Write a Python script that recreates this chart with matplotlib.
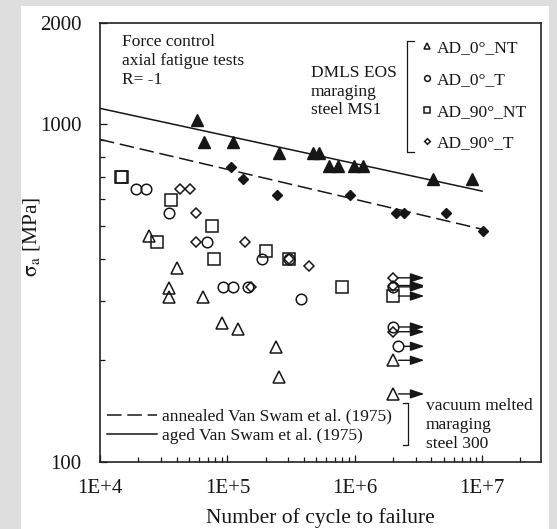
import matplotlib.pyplot as plt
from matplotlib.patches import Rectangle
from matplotlib.ticker import FixedLocator, NullFormatter

plt.rcParams['font.family'] = ['Liberation Serif', 'DejaVu Serif']
plt.rcParams['mathtext.fontset'] = 'stix'

# DMLS EOS maraging steel MS1 - failed specimens
nt0_N = [2.42e4, 3.5e4, 3.5e4, 4.0e4, 6.44e4, 9.0e4, 1.22e5, 2.39e5, 2.55e5]
nt0_S = [466, 328, 308, 376, 308, 258, 248, 219, 178]
t0_N = [1.91e4, 2.29e4, 3.5e4, 6.9e4, 9.25e4, 1.1e5, 1.45e5, 1.88e5, 3.03e5, 3.8e5]
t0_S = [643, 643, 548, 447, 330, 330, 330, 398, 398, 303]
nt90_N = [1.45e4, 1.5e4, 2.8e4, 3.6e4, 7.6e4, 7.85e4, 2.0e5, 3.03e5, 7.95e5]
nt90_S = [699, 699, 447, 596, 501, 398, 421, 398, 330]
t90_N = [4.26e4, 5.1e4, 5.65e4, 5.65e4, 1.38e5, 1.52e5, 3.03e5, 4.36e5]
t90_S = [643, 643, 548, 447, 447, 330, 398, 380]

# run-outs (no failure)
nt0_run_N = [2e6, 2e6]
nt0_run_S = [200, 159]
t0_run_N = [2e6, 2e6, 2.2e6]
t0_run_S = [330, 251, 220]
nt90_run_N = [2e6]
nt90_run_S = [310]
t90_run_N = [2e6, 2e6, 2e6]
t90_run_S = [351, 333, 243]

# vacuum melted maraging steel 300, Van Swam et al. (1975)
aged_N = [5.8e4, 6.5e4, 1.1e5, 2.55e5, 4.74e5, 5.28e5, 6.33e5, 7.44e5, 9.9e5, 1.17e6, 4.1e6, 8.3e6]
aged_S = [1029, 888, 888, 825, 821, 821, 752, 752, 752, 752, 687, 687]
annealed_N = [1.06e5, 1.32e5, 2.47e5, 9.2e5, 2.12e6, 2.42e6, 5.2e6, 1.01e7]
annealed_S = [748, 687, 619, 619, 547, 547, 547, 482]
aged_fit_N = [1e4, 1e7]
aged_fit_S = [1115, 634]
annealed_fit_N = [1e4, 1e7]
annealed_fit_S = [902, 489]

W, H = 557, 529
fig = plt.figure(figsize=(W / 100, H / 100), dpi=100)
fig.patch.set_facecolor('#dedede')
fig.patches.append(Rectangle((21 / W, 0), 528 / W, 1 - 6 / H, transform=fig.transFigure,
                             facecolor='white', edgecolor='none', zorder=-10))

L, R, T, B = 100, 541, 22.7, 461.9
ax = fig.add_axes([L / W, 1 - B / H, (R - L) / W, (B - T) / H])
ax.set_zorder(5)


def fx(px):
    return (px - L) / (R - L)


def fy(py):
    return (B - py) / (B - T)


ink = '#161616'
open_kw = dict(ls='none', mfc='none', mec=ink, mew=1.1)
h_nt0, = ax.plot(nt0_N, nt0_S, marker='^', ms=8.3, label='AD_0°_NT', **open_kw)
h_t0, = ax.plot(t0_N, t0_S, marker='o', ms=7.6, label='AD_0°_T', **open_kw)
h_nt90, = ax.plot(nt90_N, nt90_S, marker='s', ms=8.2, label='AD_90°_NT', **open_kw)
h_t90, = ax.plot(t90_N, t90_S, marker='D', ms=5.2, label='AD_90°_T', **open_kw)

ax.plot(nt0_run_N, nt0_run_S, marker='^', ms=8.3, **open_kw)
ax.plot(t0_run_N, t0_run_S, marker='o', ms=7.6, **open_kw)
ax.plot(nt90_run_N, nt90_run_S, marker='s', ms=8.2, **open_kw)
ax.plot(t90_run_N, t90_run_S, marker='D', ms=5.2, **open_kw)

for n, s in zip(nt0_run_N + t0_run_N + nt90_run_N + t90_run_N,
                nt0_run_S + t0_run_S + nt90_run_S + t90_run_S):
    ax.annotate('', xy=(2e6 * 1.76, s), xytext=(n, s),
                arrowprops=dict(arrowstyle='-|>,head_length=0.6,head_width=0.2',
                                color=ink, lw=1.0, shrinkA=3.8, shrinkB=0,
                                mutation_scale=14))

h_aged, = ax.plot(aged_fit_N, aged_fit_S, color=ink, lw=1.1,
                  label='aged Van Swam et al. (1975)')
h_ann, = ax.plot(annealed_fit_N, annealed_fit_S, color=ink, lw=1.1, ls=(0, (9.5, 3.8)),
                 label='annealed Van Swam et al. (1975)')
ax.plot(aged_N, aged_S, ls='none', marker='^', ms=8.5, color=ink)
ax.plot(annealed_N, annealed_S, ls='none', marker='D', ms=5.6, color=ink)

ax.set_xscale('log')
ax.set_yscale('log')
ax.set_xlim(1e4, 2.9e7)
ax.set_ylim(100, 2000)
ax.set_xticks([1e4, 1e5, 1e6, 1e7], ['1E+4', '1E+5', '1E+6', '1E+7'])
ax.xaxis.set_minor_locator(FixedLocator([m * 10 ** e for e in range(4, 8) for m in range(2, 10)
                                         if m * 10 ** e < 2.9e7]))
ax.set_yticks([100, 1000, 2000], ['100', '1000', '2000'])
ax.yaxis.set_minor_locator(FixedLocator([200, 300, 400, 500, 600, 700, 800, 900]))
ax.xaxis.set_minor_formatter(NullFormatter())
ax.yaxis.set_minor_formatter(NullFormatter())
ax.tick_params(which='both', direction='in', top=False, right=False, color=ink, width=0.9)
ax.tick_params(which='major', length=5, labelsize=15, labelcolor=ink)
ax.tick_params(which='minor', length=3.8)
ax.tick_params(axis='x', pad=12.5)
ax.tick_params(axis='y', pad=13.5)
for sp in ax.spines.values():
    sp.set_linewidth(1.2)
    sp.set_color('#222222')

ax.set_xlabel('Number of cycle to failure', fontsize=15.5, color=ink, va='center')
ax.xaxis.set_label_coords(0.5, fy(518))
ax.set_ylabel(r'$\mathrm{\sigma_a}$ [MPa]', fontsize=15.5, color=ink, va='center')
ax.yaxis.set_label_coords(fx(31), fy(237))

fs = 12.5
for txt, py in [('Force control', 42), ('axial fatigue tests', 61), ('R= -1', 80)]:
    ax.text(fx(121.7), fy(py), txt, transform=ax.transAxes, fontsize=fs, color=ink, va='center')
for txt, py in [('DMLS EOS', 73.5), ('maraging', 92), ('steel MS1', 110)]:
    ax.text(fx(310.7), fy(py), txt, transform=ax.transAxes, fontsize=fs, color=ink, va='center')
for txt, py in [('vacuum melted', 406.5), ('maraging', 425), ('steel 300', 443.5)]:
    ax.text(fx(426), fy(py), txt, transform=ax.transAxes, fontsize=fs, color=ink, va='center')

# brackets
ax.plot([fx(413.5), fx(406.7), fx(406.7), fx(413.5)], [fy(41), fy(41), fy(151.7), fy(151.7)],
        transform=ax.transAxes, color=ink, lw=0.9, clip_on=False)
ax.plot([fx(403), fx(408.3), fx(408.3), fx(403)], [fy(403.3), fy(403.3), fy(445), fy(445)],
        transform=ax.transAxes, color=ink, lw=0.9, clip_on=False)

leg1 = ax.legend(handles=[h_nt0, h_t0, h_nt90, h_t90], loc='upper left',
                 bbox_to_anchor=(fx(421.5), fy(40)), frameon=False, fontsize=fs,
                 markerscale=0.55, handlelength=0.65, handletextpad=0.25,
                 labelspacing=0.9, borderpad=0, borderaxespad=0, labelcolor=ink)
ax.add_artist(leg1)
ax.legend(handles=[h_ann, h_aged], loc='upper left', bbox_to_anchor=(fx(106.7), fy(408.5)),
          frameon=False, fontsize=fs, handlelength=2.87, handletextpad=0.3,
          labelspacing=0.16, borderpad=0, borderaxespad=0, labelcolor=ink)

fig.savefig('out.png', dpi=100, facecolor=fig.get_facecolor())
